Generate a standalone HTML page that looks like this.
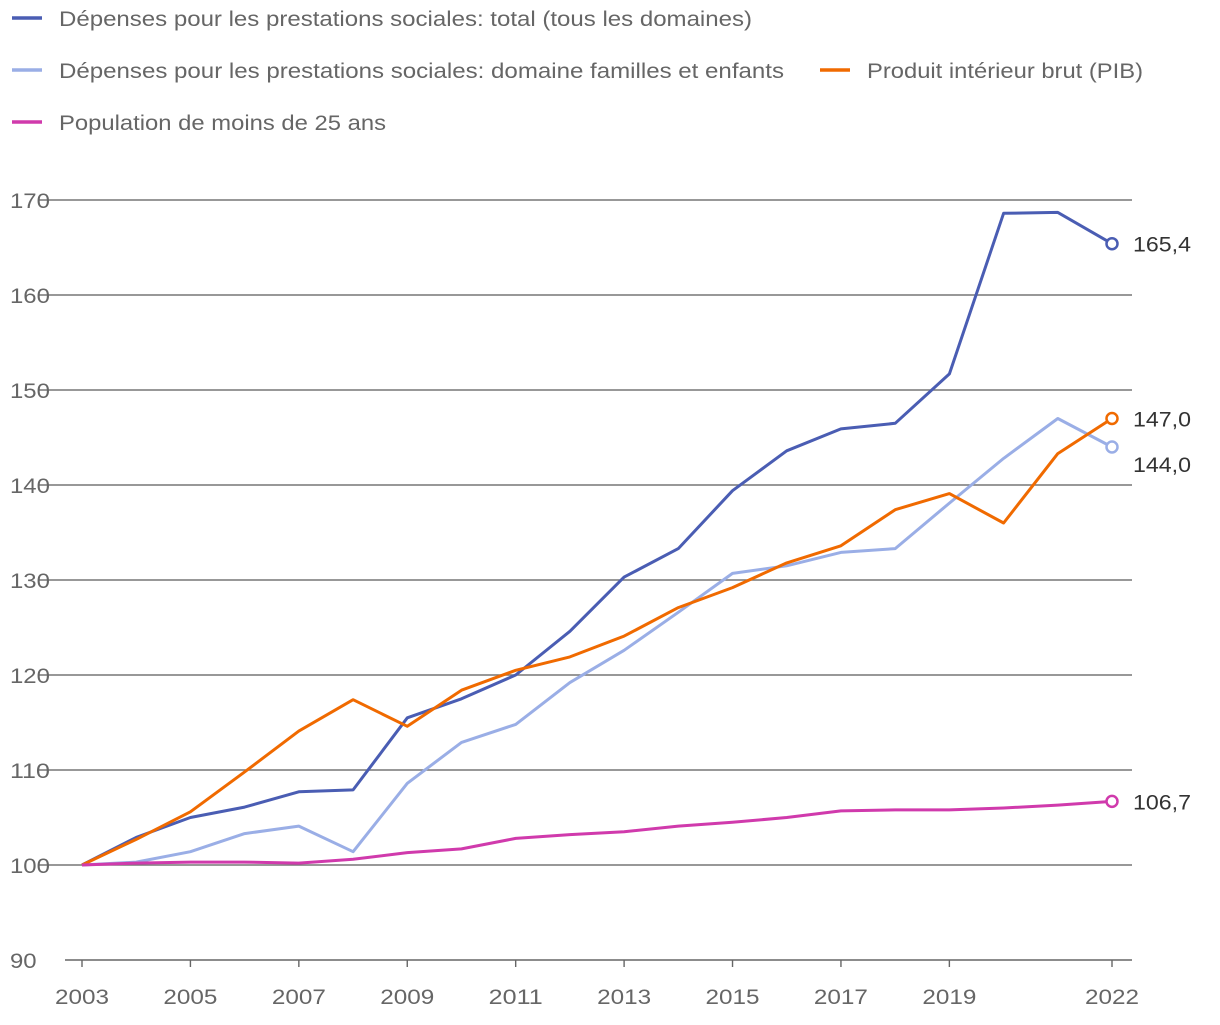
<!DOCTYPE html>
<html><head><meta charset="utf-8"><style>
body{margin:0;background:#fff;width:1220px;height:1020px;overflow:hidden;font-family:"Liberation Sans",sans-serif}
svg text{font-family:"Liberation Sans",sans-serif}
</style></head><body>
<svg id="c" width="1220" height="1020"></svg>
<script>
const years=[2003,2004,2005,2006,2007,2008,2009,2010,2011,2012,2013,2014,2015,2016,2017,2018,2019,2020,2021,2022];
const total=[100,102.9,105.0,106.1,107.7,107.9,115.5,117.5,120.0,124.6,130.3,133.3,139.4,143.6,145.9,146.5,151.7,168.6,168.7,165.4];
const familles=[100,100.3,101.4,103.3,104.1,101.4,108.6,112.9,114.8,119.2,122.6,126.6,130.7,131.5,132.9,133.3,138.1,142.8,147.0,144.0];
const pib=[100,102.7,105.6,109.8,114.1,117.4,114.6,118.4,120.5,121.9,124.1,127.1,129.2,131.8,133.6,137.4,139.1,136.0,143.3,147.0];
const pop=[100,100.2,100.3,100.3,100.2,100.6,101.3,101.7,102.8,103.2,103.5,104.1,104.5,105.0,105.7,105.8,105.8,106.0,106.3,106.7];
const yTicks=[90,100,110,120,130,140,150,160,170];
const xTicks=[2003,2005,2007,2009,2011,2013,2015,2017,2019,2022];
const series=[
 {name:"Dépenses pour les prestations sociales: total (tous les domaines)",vals:total,color:"#4a5db3",key:"total",lx:12,ly:18,tw:693},
 {name:"Dépenses pour les prestations sociales: domaine familles et enfants",vals:familles,color:"#9aaee6",key:"familles",lx:12,ly:70,tw:725},
 {name:"Produit intérieur brut (PIB)",vals:pib,color:"#f06a00",key:"pib",lx:820,ly:70,tw:276},
 {name:"Population de moins de 25 ans",vals:pop,color:"#d03aac",key:"population",lx:12,ly:122,tw:327}
];
const X=y=>82+(y-2003)*(1030/19);
const Y=v=>865-(v-100)*9.5;
const svg=document.getElementById('c');
const NS='http://www.w3.org/2000/svg';
function mk(t,a,p){const e=document.createElementNS(NS,t);for(const k in a)e.setAttribute(k,a[k]);(p||svg).appendChild(e);return e;}
yTicks.forEach(v=>{
 if(v>90){const l=mk('line',{x1:38,x2:1132,y1:Y(v),y2:Y(v),stroke:'#777','stroke-width':1.4});
 
 }
 const s=String(v);
 const t=mk('text',{x:10,y:Y(v)+8,'font-size':21,fill:'#666',textLength:s.length*13.3,lengthAdjust:'spacingAndGlyphs'});t.textContent=s;
 
 
});
const ax=mk('line',{x1:65,x2:1132,y1:960,y2:960,stroke:'#666','stroke-width':1.4});


xTicks.forEach(y=>{
 mk('line',{x1:X(y),x2:X(y),y1:960,y2:967,stroke:'#666','stroke-width':1.4});
 const t=mk('text',{x:X(y)-27,y:1004,'font-size':21,fill:'#666',textLength:54,lengthAdjust:'spacingAndGlyphs'});t.textContent=y;
 
 
});
series.forEach(s=>{
 const d=s.vals.map((v,i)=>(i?'L':'M')+X(years[i]).toFixed(1)+','+Y(v).toFixed(1)).join('');
 const p=mk('path',{d:d,fill:'none',stroke:s.color,'stroke-width':3,'stroke-linejoin':'round'});
 
 
 const last=s.vals[s.vals.length-1];
 const c=mk('circle',{cx:X(2022),cy:Y(last),r:5.5,fill:'#fff',stroke:s.color,'stroke-width':2.5});
 
 
 let ly=Y(last)+8; if(s.key==='familles') ly+=17;
 const t=mk('text',{x:1133,y:ly,'font-size':21,fill:'#333',textLength:58,lengthAdjust:'spacingAndGlyphs'});t.textContent=last.toFixed(1).replace('.',',');
 
 
 const g=mk('g',{});
 
 
 mk('line',{x1:s.lx,x2:s.lx+30,y1:s.ly,y2:s.ly,stroke:s.color,'stroke-width':3.5},g);
 const lt=mk('text',{x:s.lx+47,y:s.ly+8,'font-size':21,fill:'#666',textLength:s.tw,lengthAdjust:'spacingAndGlyphs'},g);lt.textContent=s.name;
});
</script>
</body></html>
